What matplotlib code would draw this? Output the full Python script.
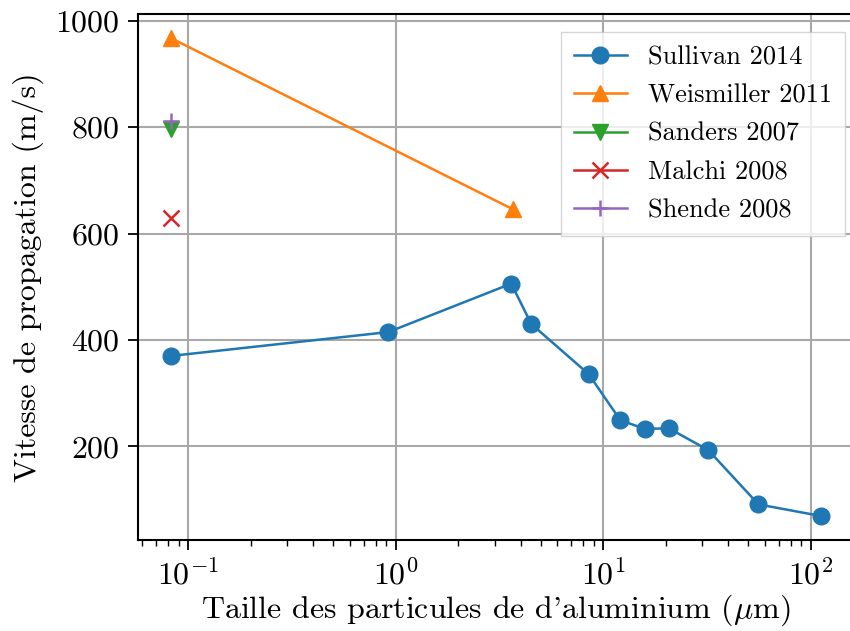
import matplotlib
matplotlib.use('Agg')
import matplotlib.pyplot as plt

# Vitesse de propagation en fonction de la taille des particules d'aluminium

sullivan_x = [0.082, 0.92, 3.6, 4.5, 8.5, 12.1, 15.9, 20.7, 32.1, 56, 112.7]
sullivan_y = [370, 415, 506, 430, 336, 249, 233, 234, 193, 91, 69]

weismiller_x = [0.082, 3.66]
weismiller_y = [968, 646]

sanders_x = [0.082]
sanders_y = [797]

malchi_x = [0.082]
malchi_y = [630]

shende_x = [0.082]
shende_y = [812]

plt.rcParams['font.family'] = 'serif'
plt.rcParams['font.serif'] = ['cmr10']
plt.rcParams['mathtext.fontset'] = 'cm'
plt.rcParams['axes.formatter.use_mathtext'] = True
plt.rcParams['axes.unicode_minus'] = True
plt.rcParams['font.size'] = 23

fig = plt.figure(figsize=(8.5, 6.31), dpi=100)
ax = fig.add_axes([138 / 850, 91 / 631, 716 / 850, 526 / 631])

ms = 12
lw = 1.8
ax.plot(sullivan_x, sullivan_y, '-o', color='C0', ms=ms, lw=lw, label='Sullivan 2014')
ax.plot(weismiller_x, weismiller_y, '-^', color='C1', ms=ms, lw=lw, label='Weismiller 2011')
ax.plot(sanders_x, sanders_y, '-v', color='C2', ms=ms, lw=lw, label='Sanders 2007')
ax.plot(malchi_x, malchi_y, '-x', color='C3', ms=ms, mew=1.8, lw=lw, label='Malchi 2008')
ax.plot(shende_x, shende_y, '-+', color='C4', ms=ms, mew=1.8, lw=lw, label='Shende 2008')

ax.set_xscale('log')
ax.grid(True, color='#a8a8a8', linewidth=1.5)
ax.set_axisbelow(True)
ax.set_xlabel(r"Taille des particules de d'aluminium ($\mu$m)", labelpad=2)
ax.set_ylabel('Vitesse de propagation (m/s)', labelpad=8)
ax.set_yticks([200, 400, 600, 800, 1000])
ax.tick_params(which='major', length=7, width=1.3, pad=6)
ax.tick_params(which='minor', length=4, width=1.0)
for spine in ax.spines.values():
    spine.set_linewidth(1.5)

ax.legend(loc='upper right', bbox_to_anchor=(1.006, 0.99), fancybox=False,
          fontsize=19, handlelength=2.0, borderpad=0.5, labelspacing=0.55)

fig.savefig('out.png', dpi=100)
plt.close()
